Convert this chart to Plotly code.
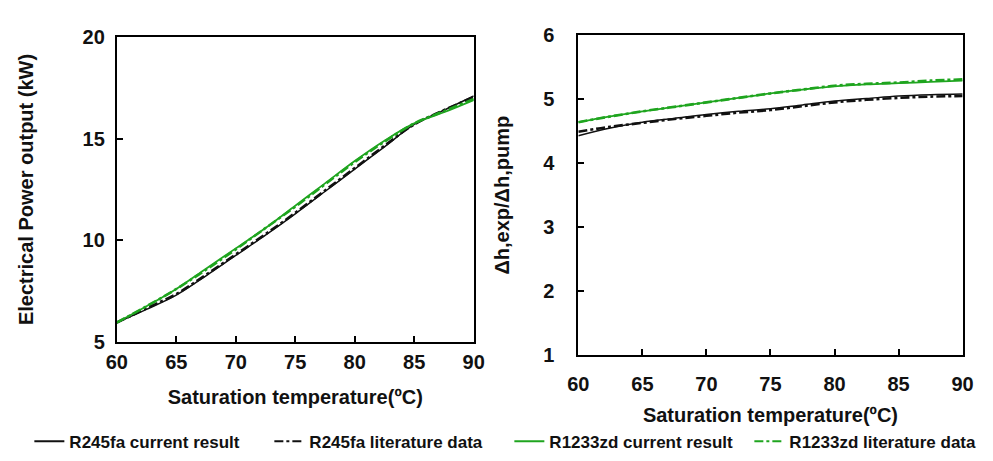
import plotly.graph_objects as go

# ---------------- data ----------------
temp = [60, 62.5, 65, 67.5, 70, 72.5, 75, 77.5, 80, 82.5, 85, 87.5, 90]

# Left: Electrical power output (kW)
p_r245fa_cur = [5.95, 6.6, 7.3, 8.25, 9.25, 10.25, 11.3, 12.4, 13.5, 14.6, 15.7, 16.4, 17.1]
p_r245fa_lit = [5.95, 6.65, 7.35, 8.3, 9.3, 10.3, 11.35, 12.45, 13.55, 14.65, 15.7, 16.4, 17.05]
p_r1233_cur = [5.95, 6.75, 7.6, 8.6, 9.6, 10.6, 11.7, 12.8, 13.9, 14.9, 15.75, 16.3, 16.9]
p_r1233_lit = [5.95, 6.75, 7.6, 8.55, 9.55, 10.6, 11.65, 12.75, 13.85, 14.85, 15.75, 16.35, 16.95]

# Right: enthalpy ratio
h_r245fa_cur = [4.43, 4.55, 4.64, 4.70, 4.76, 4.81, 4.85, 4.91, 4.97, 5.01, 5.05, 5.07, 5.08]
h_r245fa_lit = [4.49, 4.57, 4.63, 4.69, 4.74, 4.79, 4.83, 4.89, 4.95, 4.99, 5.02, 5.04, 5.05]
h_r1233_cur = [4.64, 4.73, 4.81, 4.88, 4.95, 5.02, 5.09, 5.15, 5.20, 5.23, 5.25, 5.27, 5.29]
h_r1233_lit = [4.64, 4.73, 4.81, 4.88, 4.95, 5.02, 5.09, 5.15, 5.21, 5.24, 5.26, 5.29, 5.31]

series_names = ["R245fa current result", "R245fa literature data",
                "R1233zd current result", "R1233zd literature data"]

BLACK = "#111111"
GREEN = "#1fa51f"
FONT = "Liberation Sans, Arial, sans-serif"

styles = [
    dict(color=BLACK, width=1.5, dash="solid"),
    dict(color=BLACK, width=2.6, dash="dashdot"),
    dict(color=GREEN, width=1.8, dash="solid"),
    dict(color=GREEN, width=2.6, dash="dashdot"),
]

fig = go.Figure()

left_series = [p_r245fa_cur, p_r245fa_lit, p_r1233_cur, p_r1233_lit]
right_series = [h_r245fa_cur, h_r245fa_lit, h_r1233_cur, h_r1233_lit]

order = [1, 0, 3, 2]  # draw literature first so solid lines sit on top
for i in order:
    fig.add_trace(go.Scatter(x=temp, y=left_series[i], mode="lines",
                             line=dict(shape="spline", **styles[i]),
                             name=series_names[i], showlegend=False,
                             xaxis="x", yaxis="y"))
for i in order:
    fig.add_trace(go.Scatter(x=temp, y=right_series[i], mode="lines",
                             line=dict(shape="spline", **styles[i]),
                             name=series_names[i], showlegend=False,
                             xaxis="x2", yaxis="y2"))
# legend entries in original order
for i in range(4):
    fig.add_trace(go.Scatter(x=[None], y=[None], mode="lines",
                             line=dict(color=styles[i]["color"], width=2,
                                       dash=styles[i]["dash"]),
                             name=series_names[i], showlegend=True,
                             xaxis="x", yaxis="y"))

W, H = 993, 461

def px_x(p):
    return p / W

def px_y(p):
    return 1 - p / H

axis_common = dict(showline=True, linecolor="black", linewidth=2, mirror=True,
                   ticks="inside", ticklen=6, tickwidth=2, tickcolor="black",
                   showgrid=False, zeroline=False,
                   tickfont=dict(family=FONT, size=20, color="#111111", weight="bold"))

title_font = dict(family=FONT, size=20, color="#111111", weight="bold")

fig.update_layout(
    width=W, height=H,
    margin=dict(l=0, r=0, t=0, b=0),
    paper_bgcolor="white", plot_bgcolor="white",
    font=dict(family=FONT, color="#111111"),
    xaxis=dict(domain=[px_x(100), px_x(465)], range=[60, 90], dtick=5,
               anchor="y", ticklabelstandoff=1,
               title=dict(text="Saturation temperature(ºC)", standoff=18,
                          font=title_font),
               **axis_common),
    yaxis=dict(domain=[px_y(339), px_y(19)], range=[5, 20], dtick=5,
               anchor="x", ticklabelstandoff=6,
               title=dict(text="Electrical Power output (kW)", standoff=44,
                          font=title_font),
               **axis_common),
    xaxis2=dict(domain=[px_x(572), px_x(965)], range=[60, 90], dtick=5,
                anchor="y2", ticklabelstandoff=10,
                title=dict(text="Saturation temperature(ºC)", standoff=14,
                           font=title_font),
                **axis_common),
    yaxis2=dict(domain=[px_y(353), px_y(17)], range=[1, 6], dtick=1,
                anchor="x2", ticklabelstandoff=18,
                title=dict(text="Δh,exp/Δh,pump", standoff=28,
                           font=title_font),
                **axis_common),
    legend=dict(orientation="h", x=0.505, xanchor="center", y=px_y(444),
                yanchor="middle",
                font=dict(family=FONT, size=17, color="#111111", weight="bold"),
                bgcolor="rgba(0,0,0,0)", itemwidth=30, tracegroupgap=0,
                entrywidth=195, entrywidthmode="pixels"),
)

fig.write_html("out.html")
